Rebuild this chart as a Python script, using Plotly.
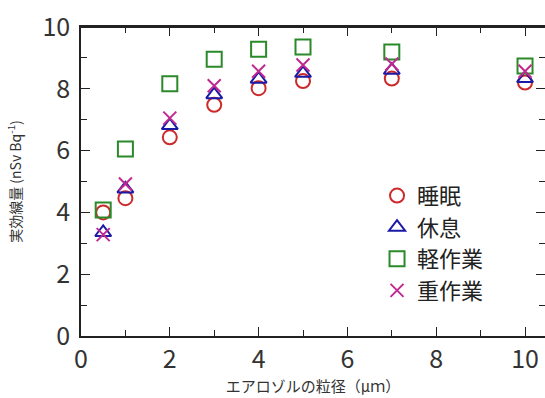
import plotly.graph_objects as go

particle_size = [0.5, 1, 2, 3, 4, 5, 7, 10]
sleep = [4.0, 4.46, 6.43, 7.48, 8.02, 8.25, 8.33, 8.2]
rest = [3.35, 4.76, 6.81, 7.81, 8.31, 8.5, 8.6, 8.33]
light_work = [4.08, 6.05, 8.16, 8.96, 9.28, 9.35, 9.19, 8.74]
heavy_work = [3.28, 4.92, 7.05, 8.1, 8.57, 8.77, 8.8, 8.57]

series_names = ["睡眠", "休息", "軽作業", "重作業"]

x_range = [0, 10.45]
y_range = [0, 10]

font_family = "Noto Sans CJK JP, Noto Sans, sans-serif"

fig = go.Figure()
fig.add_trace(go.Scatter(x=particle_size, y=sleep, mode="markers", name=series_names[0],
                         marker=dict(symbol="circle-open", size=14, color="#cc2a2a", line=dict(width=2, color="#cc2a2a"))))
fig.add_trace(go.Scatter(x=particle_size, y=rest, mode="markers", name=series_names[1],
                         marker=dict(symbol="triangle-up-open", size=14, color="#1a1aa6", line=dict(width=2, color="#1a1aa6"))))
fig.add_trace(go.Scatter(x=particle_size, y=light_work, mode="markers", name=series_names[2],
                         marker=dict(symbol="square-open", size=15, color="#2a8a2a", line=dict(width=2, color="#2a8a2a"))))
fig.add_trace(go.Scatter(x=particle_size, y=heavy_work, mode="markers", name=series_names[3],
                         marker=dict(symbol="x-thin-open", size=13, color="#c02a90", line=dict(width=2, color="#c02a90"))))

axis_common = dict(
    showline=True, linecolor="#222", linewidth=1.5, mirror="ticks",
    ticks="inside", ticklen=9, tickwidth=1.2, tickcolor="#222",
    showgrid=False, zeroline=False, automargin=False,
    tickfont=dict(size=25, color="#333", family=font_family),
    minor=dict(ticks="inside", ticklen=6, tickwidth=1, tickcolor="#222", dtick=1, showgrid=False),
)

fig.update_xaxes(range=x_range, dtick=2, tick0=0, **axis_common,
                 title=dict(text="エアロゾルの粒径（μｍ）", font=dict(size=15, color="#333", family=font_family), standoff=2))
fig.update_yaxes(range=y_range, dtick=2, tick0=0, ticklabelstandoff=4, **axis_common,
                 title=dict(text="実効線量 (nSv Bq<sup>-1</sup>)", font=dict(size=14, color="#333", family=font_family), standoff=18))

fig.update_layout(
    width=545, height=398,
    margin=dict(l=81, r=0, t=27, b=62),
    paper_bgcolor="white", plot_bgcolor="white",
    showlegend=True,
    legend=dict(x=0.638, y=0.30, xanchor="left", yanchor="middle", xref="paper", yref="paper",
                bgcolor="rgba(255,255,255,0)", font=dict(size=22, color="#222", family=font_family),
                tracegroupgap=0, itemwidth=30),
    font=dict(family=font_family),
    shapes=[dict(type="line", xref="x", yref="y", x0=x_range[0], x1=x_range[1], y0=y_range[1], y1=y_range[1],
                 line=dict(color="#222", width=2), layer="above")],
)

# remove the browser's default 8px body margin so the figure fills the window exactly
fig.write_html("out.html", config={"displayModeBar": False},
               post_script="document.body.style.margin='0';document.body.style.overflow='hidden';")
